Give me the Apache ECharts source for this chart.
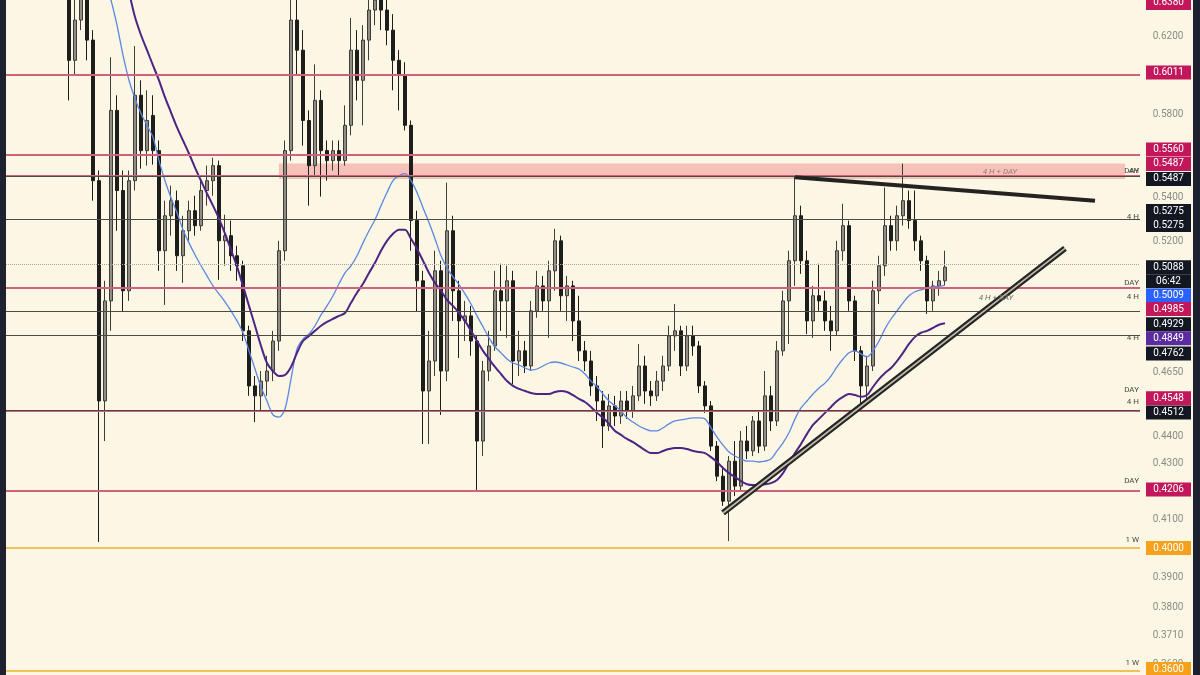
<!DOCTYPE html>
<html>
<head>
<meta charset="utf-8">
<script src="https://cdn.jsdelivr.net/npm/echarts@6/dist/echarts.min.js"></script>
<style>
html,body{margin:0;padding:0;background:#1d2130;}
#c{width:1200px;height:675px;}
</style>
</head>
<body>
<div id="c"></div>
<script>
// ---------------- DATA ----------------
const slotCount = 189;          // candle slots on the time axis (incl. empty future space)
const firstCandle = 10;         // slot index of the first candle
// [open, close, low, high]
const candles = [
[0.6507,0.6074,0.5869,0.6618],[0.6074,0.6287,0.5997,0.6451],[0.6287,0.6423,0.6233,0.6562],[0.6423,0.6180,0.6074,0.6562],[0.6180,0.5479,0.5386,0.6233],
[0.5479,0.4537,0.4021,0.5527],[0.4537,0.4943,0.4384,0.5029],[0.4943,0.5819,0.4818,0.6090],[0.5819,0.5433,0.5249,0.5895],[0.5433,0.4986,0.4897,0.5527],
[0.4986,0.5479,0.4943,0.5527],[0.5479,0.5895,0.5433,0.6148],[0.5895,0.5622,0.5536,0.5971],[0.5622,0.5769,0.5550,0.5920],[0.5794,0.5622,0.5555,0.5895],
[0.5622,0.5160,0.5072,0.5671],[0.5160,0.5317,0.4926,0.5386],[0.5317,0.5386,0.5227,0.5456],[0.5386,0.5138,0.5072,0.5433],[0.5138,0.5249,0.5020,0.5317],
[0.5249,0.5340,0.5204,0.5386],[0.5340,0.5272,0.5227,0.5409],[0.5272,0.5433,0.5249,0.5479],[0.5433,0.5479,0.5363,0.5550],[0.5479,0.5550,0.5409,0.5588],
[0.5550,0.5204,0.5033,0.5574],[0.5204,0.5227,0.5094,0.5322],[0.5227,0.5138,0.5072,0.5295],[0.5138,0.5094,0.5029,0.5182],[0.5094,0.4818,0.4776,0.5116],
[0.4818,0.4596,0.4557,0.4839],[0.4596,0.4557,0.4456,0.4635],[0.4557,0.4615,0.4498,0.4655],[0.4615,0.4655,0.4557,0.4716],[0.4655,0.4776,0.4615,0.4818],
[0.4776,0.5160,0.4736,0.5204],[0.5160,0.5622,0.5116,0.5671],[0.5622,0.6287,0.5574,0.6451],[0.6287,0.6127,0.5997,0.6507],[0.6127,0.5769,0.5646,0.6233],
[0.5769,0.5550,0.5363,0.5819],[0.5550,0.5869,0.5503,0.6053],[0.5869,0.5622,0.5405,0.5920],[0.5622,0.5574,0.5479,0.5671],[0.5574,0.5622,0.5527,0.5671],
[0.5622,0.5574,0.5503,0.5671],[0.5574,0.5745,0.5550,0.5844],[0.5745,0.6127,0.5696,0.6298],[0.6127,0.5971,0.5869,0.6233],[0.5971,0.6180,0.5745,0.6260],
[0.6180,0.6341,0.6074,0.6423],[0.6341,0.6396,0.6260,0.6507],[0.6396,0.6341,0.6233,0.6507],[0.6341,0.6233,0.6153,0.6423],[0.6233,0.6074,0.5920,0.6319],
[0.6074,0.5997,0.5819,0.6127],[0.5997,0.5745,0.5720,0.6064],[0.5745,0.5295,0.5160,0.5769],[0.5295,0.5029,0.4897,0.5340],[0.5029,0.4576,0.4373,0.5072],
[0.4576,0.4695,0.4373,0.4818],[0.4695,0.5072,0.4635,0.5160],[0.5072,0.4655,0.4483,0.5116],[0.4655,0.5249,0.4615,0.5470],[0.5249,0.4986,0.4859,0.5317],
[0.4986,0.4859,0.4707,0.5029],[0.4859,0.4880,0.4776,0.4943],[0.4880,0.4776,0.4716,0.4922],[0.4776,0.4384,0.4200,0.4797],[0.4384,0.4655,0.4328,0.4695],
[0.4655,0.4756,0.4615,0.4818],[0.4756,0.4986,0.4736,0.5072],[0.4986,0.4943,0.4818,0.5103],[0.4943,0.5029,0.4789,0.5094],[0.5029,0.4695,0.4603,0.5072],
[0.4695,0.4736,0.4635,0.4818],[0.4736,0.4675,0.4647,0.4776],[0.4675,0.4901,0.4655,0.4943],[0.4901,0.5007,0.4872,0.5072],[0.5007,0.4943,0.4901,0.5050],
[0.4943,0.5072,0.4789,0.5116],[0.5072,0.5204,0.4986,0.5258],[0.5204,0.4965,0.4901,0.5227],[0.4965,0.5007,0.4859,0.5050],[0.5007,0.4859,0.4776,0.5029],
[0.4859,0.4736,0.4695,0.4965],[0.4736,0.4695,0.4655,0.4776],[0.4695,0.4596,0.4557,0.4736],[0.4596,0.4537,0.4460,0.4635],[0.4537,0.4441,0.4358,0.4576],
[0.4441,0.4518,0.4422,0.4564],[0.4518,0.4479,0.4441,0.4557],[0.4479,0.4537,0.4449,0.4576],[0.4537,0.4498,0.4468,0.4576],[0.4498,0.4557,0.4472,0.4596],
[0.4557,0.4675,0.4537,0.4764],[0.4675,0.4576,0.4526,0.4716],[0.4576,0.4557,0.4518,0.4615],[0.4557,0.4615,0.4537,0.4655],[0.4615,0.4675,0.4576,0.4716],
[0.4675,0.4797,0.4655,0.4839],[0.4797,0.4818,0.4736,0.4930],[0.4818,0.4675,0.4635,0.4839],[0.4675,0.4797,0.4655,0.4839],[0.4797,0.4756,0.4716,0.4839],
[0.4756,0.4596,0.4568,0.4776],[0.4596,0.4518,0.4491,0.4615],[0.4518,0.4365,0.4347,0.4537],[0.4365,0.4254,0.4236,0.4384],[0.4254,0.4164,0.4147,0.4291],
[0.4164,0.4309,0.4024,0.4328],[0.4309,0.4218,0.4182,0.4384],[0.4218,0.4384,0.4200,0.4422],[0.4384,0.4347,0.4317,0.4441],[0.4347,0.4460,0.4328,0.4479],
[0.4460,0.4365,0.4339,0.4498],[0.4365,0.4557,0.4347,0.4655],[0.4557,0.4460,0.4422,0.4596],[0.4460,0.4736,0.4441,0.4776],[0.4736,0.4943,0.4716,0.4986],
[0.4943,0.5116,0.4764,0.5160],[0.5116,0.5317,0.5007,0.5503],[0.5317,0.5116,0.5059,0.5363],[0.5116,0.4859,0.4805,0.5160],[0.4859,0.4965,0.4789,0.5007],
[0.4965,0.4943,0.4901,0.5103],[0.4943,0.4859,0.4818,0.4986],[0.4859,0.4818,0.4736,0.4922],[0.4818,0.5160,0.4797,0.5204],[0.5160,0.5272,0.5116,0.5372],
[0.5272,0.4943,0.4901,0.5295],[0.4943,0.4736,0.4695,0.4965],[0.4736,0.4596,0.4510,0.4756],[0.4596,0.4675,0.4537,0.4716],[0.4675,0.4986,0.4655,0.5029],
[0.4986,0.5094,0.4930,0.5138],[0.5094,0.5272,0.5050,0.5447],[0.5272,0.5204,0.5160,0.5317],[0.5204,0.5317,0.5160,0.5363],[0.5317,0.5386,0.5272,0.5560],
[0.5386,0.5295,0.5258,0.5433],[0.5295,0.5204,0.5160,0.5433],[0.5204,0.5116,0.5072,0.5227],[0.5116,0.4943,0.4888,0.5138],[0.4943,0.5007,0.4901,0.5029],
[0.5007,0.5029,0.4965,0.5072],[0.5029,0.5088,0.5007,0.5160]
];
// fast moving average (blue)
const maFast = [
0.7592,0.7399,0.7211,0.7028,0.6850,0.6676,0.6518,0.6396,0.6260,0.6101,
0.5971,0.5879,0.5804,0.5745,0.5686,0.5574,0.5479,0.5400,0.5331,0.5254,
0.5195,0.5142,0.5094,0.5050,0.5007,0.4973,0.4939,0.4901,0.4859,0.4810,
0.4736,0.4663,0.4592,0.4537,0.4483,0.4475,0.4506,0.4623,0.4744,0.4784,
0.4805,0.4839,0.4884,0.4922,0.4965,0.5016,0.5063,0.5094,0.5138,0.5195,
0.5249,0.5299,0.5363,0.5424,0.5479,0.5503,0.5512,0.5479,0.5424,0.5354,
0.5286,0.5213,0.5138,0.5085,0.5046,0.5012,0.4973,0.4930,0.4880,0.4835,
0.4789,0.4752,0.4728,0.4703,0.4687,0.4679,0.4667,0.4659,0.4663,0.4675,
0.4687,0.4691,0.4687,0.4679,0.4671,0.4663,0.4643,0.4615,0.4592,0.4564,
0.4537,0.4518,0.4498,0.4472,0.4456,0.4441,0.4430,0.4422,0.4422,0.4434,
0.4449,0.4460,0.4464,0.4468,0.4472,0.4472,0.4468,0.4434,0.4399,0.4369,
0.4343,0.4328,0.4317,0.4309,0.4309,0.4306,0.4309,0.4317,0.4347,0.4377,
0.4415,0.4468,0.4510,0.4537,0.4564,0.4588,0.4607,0.4635,0.4671,0.4703,
0.4728,0.4736,0.4724,0.4711,0.4736,0.4776,0.4826,0.4867,0.4901,0.4935,
0.4965,0.4982,0.4990,0.4999,0.5003,0.5006,0.5009
];
// slow moving average (purple)
const maSlow = [
0.8271,0.8061,0.7856,0.7657,0.7463,0.7273,0.7089,0.6909,0.6745,0.6591,
0.6440,0.6303,0.6207,0.6127,0.6048,0.5971,0.5884,0.5809,0.5735,0.5671,
0.5608,0.5541,0.5479,0.5419,0.5363,0.5304,0.5236,0.5164,0.5090,0.5007,
0.4922,0.4839,0.4756,0.4687,0.4655,0.4635,0.4639,0.4671,0.4728,0.4776,
0.4797,0.4818,0.4839,0.4855,0.4868,0.4880,0.4892,0.4935,0.4978,0.5016,
0.5063,0.5107,0.5160,0.5204,0.5236,0.5254,0.5254,0.5213,0.5169,0.5116,
0.5063,0.5020,0.4986,0.4947,0.4922,0.4892,0.4859,0.4818,0.4776,0.4736,
0.4703,0.4671,0.4643,0.4615,0.4596,0.4584,0.4576,0.4568,0.4564,0.4564,
0.4564,0.4572,0.4576,0.4572,0.4560,0.4545,0.4533,0.4514,0.4491,0.4472,
0.4449,0.4422,0.4407,0.4392,0.4380,0.4365,0.4350,0.4339,0.4339,0.4347,
0.4354,0.4358,0.4358,0.4354,0.4347,0.4343,0.4339,0.4324,0.4306,0.4284,
0.4265,0.4251,0.4236,0.4225,0.4222,0.4222,0.4225,0.4229,0.4240,0.4265,
0.4302,0.4339,0.4373,0.4411,0.4445,0.4468,0.4491,0.4514,0.4537,0.4553,
0.4564,0.4560,0.4553,0.4560,0.4592,0.4623,0.4647,0.4667,0.4695,0.4728,
0.4764,0.4793,0.4810,0.4818,0.4830,0.4843,0.4849
];
// horizontal levels
const pinkLevels   = [0.6380, 0.6011, 0.5560, 0.5487, 0.4985, 0.4548, 0.4206];
const blackLevels  = [0.5487, 0.5275, 0.4929, 0.4762, 0.4512];
const orangeLevels = [0.4000, 0.3600];
const lastPrice    = 0.5088;
const zoneLow = 0.5487, zoneHigh = 0.5560, zoneStartSlot = 45, zoneEndSlot = 186;
// trend lines: [slot, price]
const resistance = [[131, 0.5495], [181, 0.5386]];
const support    = [[119, 0.4122], [176, 0.5170]];
// price-scale tick labels
const scaleTicks = [0.6200, 0.5800, 0.5400, 0.5200, 0.4650, 0.4400, 0.4300, 0.4100, 0.3900, 0.3800, 0.3710, 0.3620];
const yMin = 0.3588, yMax = 0.6396;

// ---------------- CHART ----------------
const PINK = '#C2185B', BLACK = '#131722', BLUE = '#2962FF', PURPLE = '#5B2C9F', ORANGE = '#F5A11C';
const CREAM = '#FBF7E4', FRAME = '#1d2130';
const categories = Array.from({length: slotCount}, (_, i) => String(i));
const candleData = candles.map((c, k) => [firstCandle + k].concat(c));
const fastData = maFast.map((v, k) => [firstCandle + k, v]);
const slowData = maSlow.map((v, k) => [firstCandle + k, v]);

const hl = (v, color, width, type) => ({yAxis: v, lineStyle: {color: color, width: width, type: type || 'solid'}});
const levelLines = []
  .concat(pinkLevels.map(v => hl(v, '#D2607F', 2)))
  .concat(blackLevels.map(v => hl(v, '#4d4a45', 1.2)))
  .concat(orangeLevels.map(v => hl(v, '#F2C15C', 2)))
  .concat([hl(lastPrice, '#a9a59a', 1, 'dotted')]);

const seg = (a, b, color, width) => [{coord: a, lineStyle: {color: color, width: width, type: 'solid'}}, {coord: b}];

const chart = echarts.init(document.getElementById('c'), null, {renderer: 'canvas'});
chart.setOption({
  animation: false,
  backgroundColor: {
    type: 'linear', x: 0, y: 0, x2: 1, y2: 0,
    colorStops: [
      {offset: 0, color: FRAME}, {offset: 0.005, color: FRAME},
      {offset: 0.0051, color: CREAM}, {offset: 0.9941, color: CREAM},
      {offset: 0.9942, color: FRAME}, {offset: 1, color: FRAME}
    ]
  },
  grid: {left: 6, right: 60, top: 0, bottom: 0, containLabel: false},
  xAxis: {type: 'category', data: categories, boundaryGap: true, show: false},
  yAxis: {type: 'log', logBase: 10, min: yMin, max: yMax, show: false, splitLine: {show: false}},
  series: [
    {
      name: 'levels', type: 'line', data: [], z: 1, silent: true,
      markArea: {silent: true, itemStyle: {color: 'rgba(242,150,150,0.55)'},
        data: [[{xAxis: zoneStartSlot, yAxis: zoneLow}, {xAxis: zoneEndSlot, yAxis: zoneHigh}]]},
      markLine: {silent: true, symbol: ['none', 'none'], label: {show: false},
        lineStyle: {type: 'solid'}, data: levelLines}
    },
    {
      name: 'price', type: 'candlestick', data: candleData, z: 2,
      encode: {x: 0, y: [1, 2, 3, 4]},
      barWidth: 3,
      itemStyle: {color: '#8f8d84', color0: '#1d1d1b', borderColor: '#3d3c38', borderColor0: '#1d1d1b', borderWidth: 1}
    },
    {
      name: 'MA fast', type: 'line', data: fastData, z: 3, showSymbol: false, smooth: 0.3,
      lineStyle: {color: '#5b87e2', width: 1.3}
    },
    {
      name: 'MA slow', type: 'line', data: slowData, z: 3, showSymbol: false, smooth: 0.3,
      lineStyle: {color: '#4e2483', width: 2}
    },
    {
      name: 'trend', type: 'line', data: [], z: 4, silent: true,
      markLine: {silent: true, symbol: ['none', 'none'], label: {show: false},
        lineStyle: {type: 'solid'},
        data: [
          seg(resistance[0], resistance[1], '#242321', 4),
          seg(support[0], support[1], '#262523', 6),
          seg(support[0], support[1], '#bdbcae', 1.6)
        ]}
    }
  ]
});

// ---------- price-scale labels positioned through the axis ----------
const yPix = v => chart.convertToPixel({yAxisIndex: 0}, v);
const tags = [
  {v: 0.6380, t: '0.6380', bg: PINK, dy: 0},
  {v: 0.6011, t: '0.6011', bg: PINK, dy: 0},
  {v: 0.5560, t: '0.5560', bg: PINK, dy: -14},
  {v: 0.5487, t: '0.5487', bg: PINK, dy: -15},
  {v: 0.5487, t: '0.5487', bg: BLACK, dy: 0},
  {v: 0.5275, t: '0.5275', bg: BLACK, dy: -14},
  {v: 0.5275, t: '0.5275', bg: BLACK, dy: 0},
  {v: lastPrice, t: '0.5088', bg: BLACK, dy: 0},
  {v: lastPrice, t: '06:42', bg: BLACK, dy: 14},
  {v: 0.5009, t: '0.5009', bg: BLUE, dy: 10},
  {v: 0.4985, t: '0.4985', bg: PINK, dy: 18},
  {v: 0.4929, t: '0.4929', bg: BLACK, dy: 20},
  {v: 0.4849, t: '0.4849', bg: PURPLE, dy: 15},
  {v: 0.4762, t: '0.4762', bg: BLACK, dy: 9},
  {v: 0.4548, t: '0.4548', bg: PINK, dy: 0},
  {v: 0.4512, t: '0.4512', bg: BLACK, dy: 5},
  {v: 0.4206, t: '0.4206', bg: PINK, dy: 0},
  {v: 0.4000, t: '0.4000', bg: ORANGE, dy: 0},
  {v: 0.3600, t: '0.3600', bg: ORANGE, dy: -2}
];
const tfTags = [
  {v: 0.5487, t: 'DAY', dy: -8}, {v: 0.5487, t: '4H', dy: -8},
  {v: 0.5275, t: '4 H', dy: -8}, {v: 0.4985, t: 'DAY', dy: -8},
  {v: 0.4929, t: '4 H', dy: -7}, {v: 0.4762, t: '4 H', dy: -6},
  {v: 0.4548, t: 'DAY', dy: -8}, {v: 0.4512, t: '4 H', dy: -5},
  {v: 0.4206, t: 'DAY', dy: -8}, {v: 0.4000, t: '1 W', dy: -8},
  {v: 0.3600, t: '1 W', dy: -8}
];
const g = [];
scaleTicks.forEach(v => g.push({type: 'text', x: 1168, y: yPix(v), z: 10,
  style: {text: v.toFixed(4), fill: '#8d8b85', font: '10px Roboto', align: 'center', verticalAlign: 'middle'}}));
tags.forEach(o => {
  const y = yPix(o.v) + o.dy;
  g.push({type: 'rect', shape: {x: 1146, y: y - 7, width: 45, height: 14}, style: {fill: o.bg}, z: 20});
  g.push({type: 'text', x: 1168.5, y: y, z: 21,
    style: {text: o.t, fill: '#ffffff', font: '10px Roboto', align: 'center', verticalAlign: 'middle'}});
});
tfTags.forEach(o => g.push({type: 'text', x: 1139, y: yPix(o.v) + o.dy, z: 15,
  style: {text: o.t, fill: '#4a4844', font: '8px Roboto', align: 'right', verticalAlign: 'middle'}}));
g.push({type: 'text', x: 1000, y: yPix(zoneLow) - 7, z: 15,
  style: {text: '4 H + DAY', fill: '#8a7f7a', font: 'italic 8px Roboto', align: 'center', verticalAlign: 'middle'}});
g.push({type: 'text', x: 996, y: yPix(0.4929) - 6, z: 15,
  style: {text: '4 H + DAY', fill: '#6e6b66', font: 'italic 8px Roboto', align: 'center', verticalAlign: 'middle'}});
chart.setOption({graphic: g});
</script>
</body>
</html>
